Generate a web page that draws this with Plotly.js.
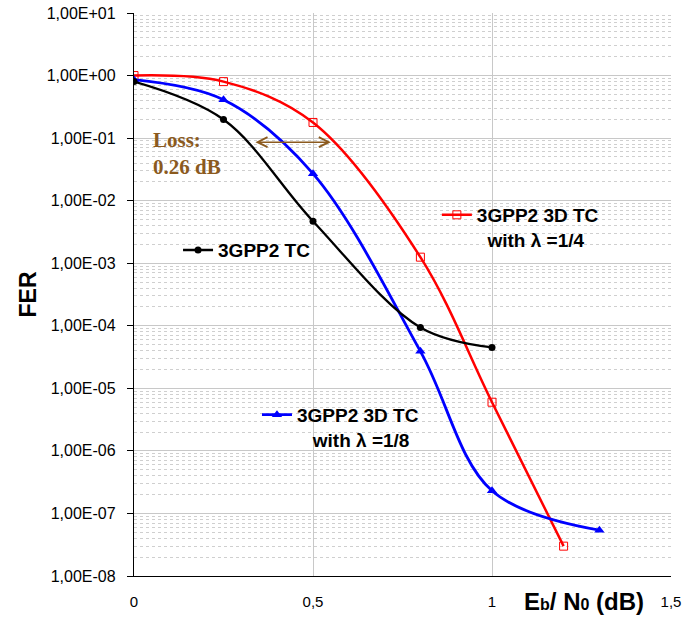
<!DOCTYPE html>
<html>
<head>
<meta charset="utf-8">
<script src="https://cdn.plot.ly/plotly-3.0.1.min.js"></script>
<style>html,body{margin:0;padding:0;background:#fff;}#chart{width:683px;height:618px;}</style>
</head>
<body>
<div id="chart"></div>
<script>
// Eb/N0 (dB) values and FER values
const xTC = [0, 0.25, 0.5, 0.8, 1.0];
const ferTC = [0.8, 0.198, 0.0047, 9.4e-5, 4.5e-5];

const xTC3D8 = [0, 0.25, 0.5, 0.8, 1.0, 1.3];
const ferTC3D8 = [0.86, 0.41, 0.027, 3.9e-5, 2.3e-7, 5.4e-8];

const xTC3D4 = [0, 0.25, 0.5, 0.8, 1.0, 1.2];
const ferTC3D4 = [1.0, 0.80, 0.178, 1.25e-3, 6.0e-6, 3.0e-8];

const seriesNames = [
  '3GPP2 TC',
  '3GPP2 3D TC<br>\u00a0\u00a0with \u03bb =1/4',
  '3GPP2 3D TC<br>\u00a0\u00a0\u00a0with \u03bb =1/8'
];

const yTickVals = [1e-8, 1e-7, 1e-6, 1e-5, 1e-4, 1e-3, 1e-2, 1e-1, 1e0, 1e1];
const yTickText = ['1,00E-08','1,00E-07','1,00E-06','1,00E-05','1,00E-04','1,00E-03','1,00E-02','1,00E-01','1,00E+00','1,00E+01'];
const xTickVals = [0, 0.5, 1, 1.5];
const xTickText = ['0', '0,5', '1', '1,5'];

// loss arrow endpoints (Eb/N0) and level
const lossX = [0.335, 0.55];
const lossFER = 0.086;

// minor grid positions (2..9 within each decade)
const minorVals = [];
for (let e = -8; e < 1; e++) for (let m = 2; m <= 9; m++) minorVals.push(m * Math.pow(10, e));

const sans = 'Liberation Sans, Arial, sans-serif';
const brown = '#8B5A1E';

const traces = [
  {x: xTC3D4, y: ferTC3D4, name: seriesNames[1], mode: 'lines+markers', legend: 'legend2',
   line: {color: '#ff0000', width: 2.5, shape: 'spline', smoothing: 1},
   marker: {symbol: 'square-open', size: 8, color: '#ff0000', line: {width: 1, color: '#ff0000'}}},
  {x: xTC3D8, y: ferTC3D8, name: seriesNames[2], mode: 'lines+markers', legend: 'legend3',
   line: {color: '#0000ff', width: 2.8, shape: 'spline', smoothing: 1},
   marker: {symbol: 'triangle-up', size: 9, color: '#0000ff'}},
  {x: xTC, y: ferTC, name: seriesNames[0], mode: 'lines+markers', legend: 'legend',
   line: {color: '#000000', width: 2.3, shape: 'spline', smoothing: 1},
   marker: {symbol: 'circle', size: 7, color: '#000000'}}
];

const legFont = {family: sans, size: 19, color: '#000', weight: 'bold'};
const legBase = {bgcolor: 'rgba(0,0,0,0)', borderwidth: 0, font: legFont, valign: 'top',
                 xanchor: 'left', yanchor: 'top', itemwidth: 30};

const layout = {
  width: 683, height: 618,
  margin: {l: 134, r: 12, t: 13, b: 42},
  paper_bgcolor: '#fff', plot_bgcolor: '#fff',
  font: {family: sans, color: '#000'},
  xaxis: {
    range: [0, 1.5], tickmode: 'array', tickvals: xTickVals, ticktext: xTickText,
    showgrid: true, gridcolor: '#c8c8c8', gridwidth: 1, zeroline: false,
    showline: true, linecolor: '#000', linewidth: 1, ticks: '',
    tickfont: {family: sans, size: 15, color: '#000'}, ticklabelstandoff: 12
  },
  yaxis: {
    type: 'log', range: [-8, 1], tickmode: 'array', tickvals: yTickVals, ticktext: yTickText,
    showgrid: true, gridcolor: '#c8c8c8', gridwidth: 1, zeroline: false,
    showline: true, linecolor: '#000', linewidth: 1.2, ticks: 'outside', ticklen: 6, tickcolor: '#000',
    tickfont: {family: sans, size: 16, color: '#000'}, ticklabelstandoff: 8,
    minor: {tickmode: 'array', tickvals: minorVals, showgrid: true, gridcolor: '#cfcfcf',
            griddash: '3px,3px', gridwidth: 1, ticks: ''},
    title: {text: 'FER', font: {family: sans, size: 23, color: '#000', weight: 'bold'}, standoff: 3}
  },
  legend: Object.assign({}, legBase, {x: 0.082, y: 0.6125}),
  legend2: Object.assign({}, legBase, {x: 0.564, y: 0.675}),
  legend3: Object.assign({}, legBase, {x: 0.229, y: 0.32}),
  annotations: [
    {xref: 'x', yref: 'y', axref: 'x', ayref: 'y',
     x: lossX[1], y: Math.log10(lossFER), ax: lossX[0], ay: Math.log10(lossFER),
     text: '', showarrow: true, arrowhead: 5, startarrowhead: 5, arrowside: 'end+start',
     arrowsize: 1.3, startarrowsize: 1.3, arrowwidth: 1.5, arrowcolor: brown},
    {xref: 'x', yref: 'y', x: 0.048, y: Math.log10(0.057), xanchor: 'left', yanchor: 'middle', align: 'left',
     text: 'Loss:<br>0.26 dB', showarrow: false,
     font: {family: 'Liberation Serif, Times New Roman, serif', size: 21, color: brown, weight: 'bold'}},
    {xref: 'paper', yref: 'paper', x: 0.953, y: 0, xanchor: 'right', yanchor: 'top', yshift: -10,
     text: 'E<span style="font-size:16px">b</span>/ N<span style="font-size:16px">0</span> (dB)', showarrow: false,
     font: {family: sans, size: 24, color: '#000', weight: 'bold'}}
  ],
  showlegend: true
};

Plotly.newPlot('chart', traces, layout, {displayModeBar: false, staticPlot: true});
</script>
</body>
</html>
